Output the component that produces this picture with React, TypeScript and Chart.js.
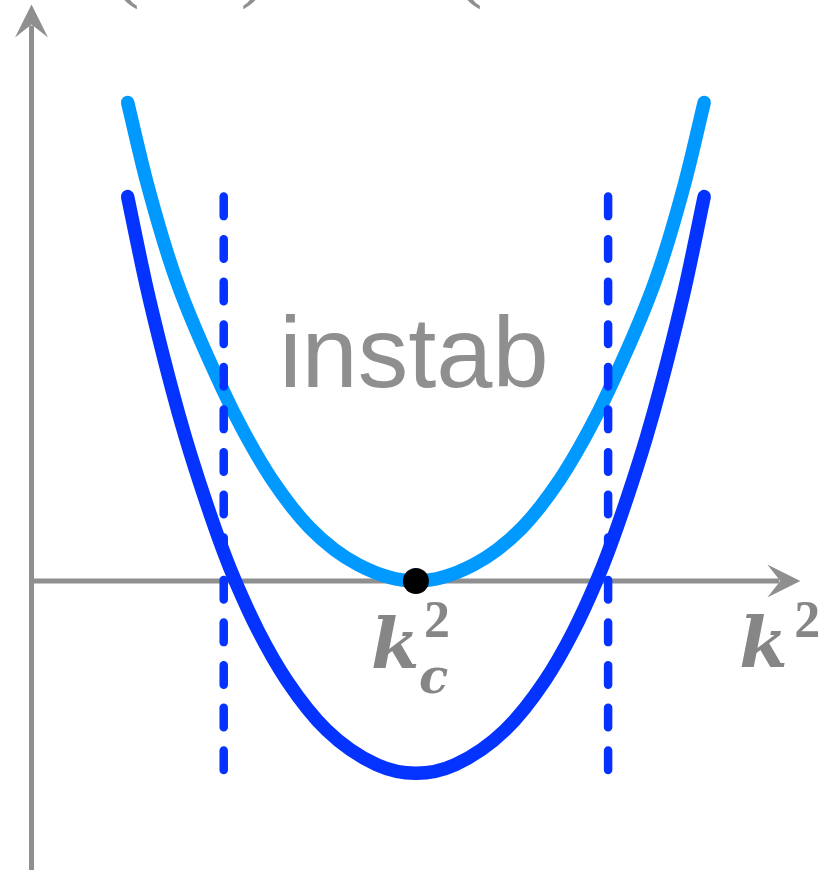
import React, { useEffect, useRef } from 'react';
import { Chart, registerables } from 'chart.js';

Chart.register(...registerables);

// Growth rate of a perturbation against squared wavenumber k²
const kSqUpper = [1.0, 1.2, 1.5, 2.0, 2.2, 2.5, 2.9, 3.4, 4.0, 4.6, 5.1, 5.5, 5.8, 6.0, 6.5, 6.8, 7.0];
const rateUpper = [4.98, 4.15, 3.15, 1.97, 1.57, 1.06, 0.55, 0.17, 0, 0.17, 0.55, 1.06, 1.57, 1.97, 3.15, 4.15, 4.98];

const kSqLower = [1.0, 1.2, 1.46, 1.6, 1.8, 2.0, 2.12, 2.36, 2.66, 3.07, 3.59, 4.0, 4.41, 4.93, 5.34, 5.64, 5.88, 6.0, 6.2, 6.4, 6.54, 6.8, 7.0];
const rateLower = [4.0, 3.05, 2.0, 1.5, 0.87, 0.3, 0.0, -0.52, -1.04, -1.55, -1.91, -2.0, -1.91, -1.55, -1.04, -0.52, 0.0, 0.3, 0.87, 1.5, 2.0, 3.05, 4.0];

// Edges of the unstable band and the vertical extent of their markers
const bandEdges = [2, 6];
const bandTop = 4;
const bandBottom = -2.05;

// Critical wavenumber where the upper curve touches zero
const criticalK2 = 4;

// Axis extents (arrow tips)
const axisXEnd = 8;
const axisYEnd = 6;

// Visible window
const xRange = [-0.328, 8.257];
const yRange = [-3.007, 6.046];

const GREY = '#8f8f8f';
const LABEL_GREY = '#868686';
const LIGHT_BLUE = '#0099ff';
const DEEP_BLUE = '#0433ff';

const toPoints = (xs: number[], ys: number[]) => xs.map((x, i) => ({ x, y: ys[i] }));

function arrowHead(
  ctx: CanvasRenderingContext2D,
  tipX: number,
  tipY: number,
  dx: number,
  dy: number
) {
  const back = 33;
  const half = 16.5;
  const notch = 20;
  const px = -dy;
  const py = dx;
  ctx.beginPath();
  ctx.moveTo(tipX, tipY);
  ctx.lineTo(tipX - dx * back + px * half, tipY - dy * back + py * half);
  ctx.lineTo(tipX - dx * notch, tipY - dy * notch);
  ctx.lineTo(tipX - dx * back - px * half, tipY - dy * back - py * half);
  ctx.closePath();
  ctx.fill();
}

const axesPlugin = {
  id: 'arrowAxes',
  beforeDatasetsDraw(chart: any) {
    const { ctx, scales, height } = chart;
    const xs = scales.x;
    const ys = scales.y;
    const ox = xs.getPixelForValue(0);
    const oy = ys.getPixelForValue(0);
    const xTip = xs.getPixelForValue(axisXEnd);
    const yTip = ys.getPixelForValue(axisYEnd);
    ctx.save();
    ctx.strokeStyle = GREY;
    ctx.fillStyle = GREY;
    ctx.lineWidth = 5;
    ctx.lineCap = 'butt';
    // vertical axis
    ctx.beginPath();
    ctx.moveTo(ox, height);
    ctx.lineTo(ox, yTip + 21);
    ctx.stroke();
    arrowHead(ctx, ox, yTip, 0, -1);
    // horizontal axis
    ctx.beginPath();
    ctx.moveTo(ox - 2.5, oy);
    ctx.lineTo(xTip - 21, oy);
    ctx.stroke();
    arrowHead(ctx, xTip, oy, 1, 0);

    // bottoms of the bracketed heading above the plot
    ctx.font = '80px "Liberation Serif"';
    ctx.textAlign = 'center';
    ctx.textBaseline = 'alphabetic';
    ctx.fillText('(', 126, -8);
    ctx.fillText(')', 254, -8);
    ctx.fillText('(', 469, -8);
    ctx.restore();
  },
};

const labelsPlugin = {
  id: 'mathLabels',
  afterDatasetsDraw(chart: any) {
    const { ctx, scales } = chart;
    const xs = scales.x;
    const ys = scales.y;
    const cx = xs.getPixelForValue(criticalK2);
    const oy = ys.getPixelForValue(0);
    const xEnd = xs.getPixelForValue(axisXEnd);
    ctx.save();
    ctx.textBaseline = 'alphabetic';

    // region label
    ctx.fillStyle = GREY;
    ctx.textAlign = 'center';
    ctx.font = '101px "Liberation Sans"';
    ctx.fillText('instab', cx - 2, 387);

    ctx.fillStyle = LABEL_GREY;
    ctx.textAlign = 'left';
    // k_c^2 under the critical point
    ctx.font = 'bold italic 70px "DejaVu Serif"';
    ctx.fillText('k', cx - 45, oy + 87);
    ctx.font = 'bold 52px "Liberation Serif"';
    ctx.fillText('2', cx + 8, oy + 56);
    ctx.font = 'bold italic 48px "DejaVu Serif"';
    ctx.fillText('c', cx + 3, oy + 112);

    // k^2 at the end of the horizontal axis
    ctx.font = 'bold italic 70px "DejaVu Serif"';
    ctx.fillText('k', xEnd - 61, oy + 86);
    ctx.font = 'bold 52px "Liberation Serif"';
    ctx.fillText('2', xEnd - 6, oy + 56);
    ctx.restore();
  },
};

export default function App() {
  const canvasRef = useRef<HTMLCanvasElement>(null);

  useEffect(() => {
    document.body.style.margin = '0';
    const canvas = canvasRef.current;
    if (!canvas) return;

    const lineBase = {
      showLine: true,
      pointRadius: 0,
      pointHoverRadius: 0,
      borderCapStyle: 'round' as const,
      borderJoinStyle: 'round' as const,
      fill: false,
    };

    const chart = new Chart(canvas, {
      type: 'scatter',
      data: {
        datasets: [
          {
            label: 'critical point',
            data: [{ x: criticalK2, y: 0 }],
            showLine: false,
            pointRadius: 13,
            pointHoverRadius: 13,
            pointBackgroundColor: '#000000',
            pointBorderWidth: 0,
            borderWidth: 0,
          },
          {
            label: 'band left',
            data: [
              { x: bandEdges[0], y: bandTop },
              { x: bandEdges[0], y: bandBottom },
            ],
            ...lineBase,
            borderColor: DEEP_BLUE,
            borderWidth: 8.5,
            borderDash: [19.5, 23.1],
          },
          {
            label: 'band right',
            data: [
              { x: bandEdges[1], y: bandTop },
              { x: bandEdges[1], y: bandBottom },
            ],
            ...lineBase,
            borderColor: DEEP_BLUE,
            borderWidth: 8.5,
            borderDash: [19.5, 23.1],
          },
          {
            label: 'lower',
            data: toPoints(kSqLower, rateLower),
            ...lineBase,
            borderColor: DEEP_BLUE,
            borderWidth: 13.5,
            cubicInterpolationMode: 'monotone',
          },
          {
            label: 'upper',
            data: toPoints(kSqUpper, rateUpper),
            ...lineBase,
            borderColor: LIGHT_BLUE,
            borderWidth: 13.5,
            cubicInterpolationMode: 'monotone',
          },
        ],
      },
      options: {
        responsive: false,
        animation: false,
        devicePixelRatio: 1,
        events: [],
        layout: { padding: 0, autoPadding: false },
        plugins: {
          legend: { display: false },
          tooltip: { enabled: false },
          title: { display: false },
        },
        scales: {
          x: { type: 'linear', min: xRange[0], max: xRange[1], display: false },
          y: { type: 'linear', min: yRange[0], max: yRange[1], display: false },
        },
      },
      plugins: [axesPlugin, labelsPlugin],
    });

    return () => chart.destroy();
  }, []);

  return (
    <canvas
      ref={canvasRef}
      width={825}
      height={870}
      style={{ display: 'block', width: 825, height: 870 }}
    />
  );
}
